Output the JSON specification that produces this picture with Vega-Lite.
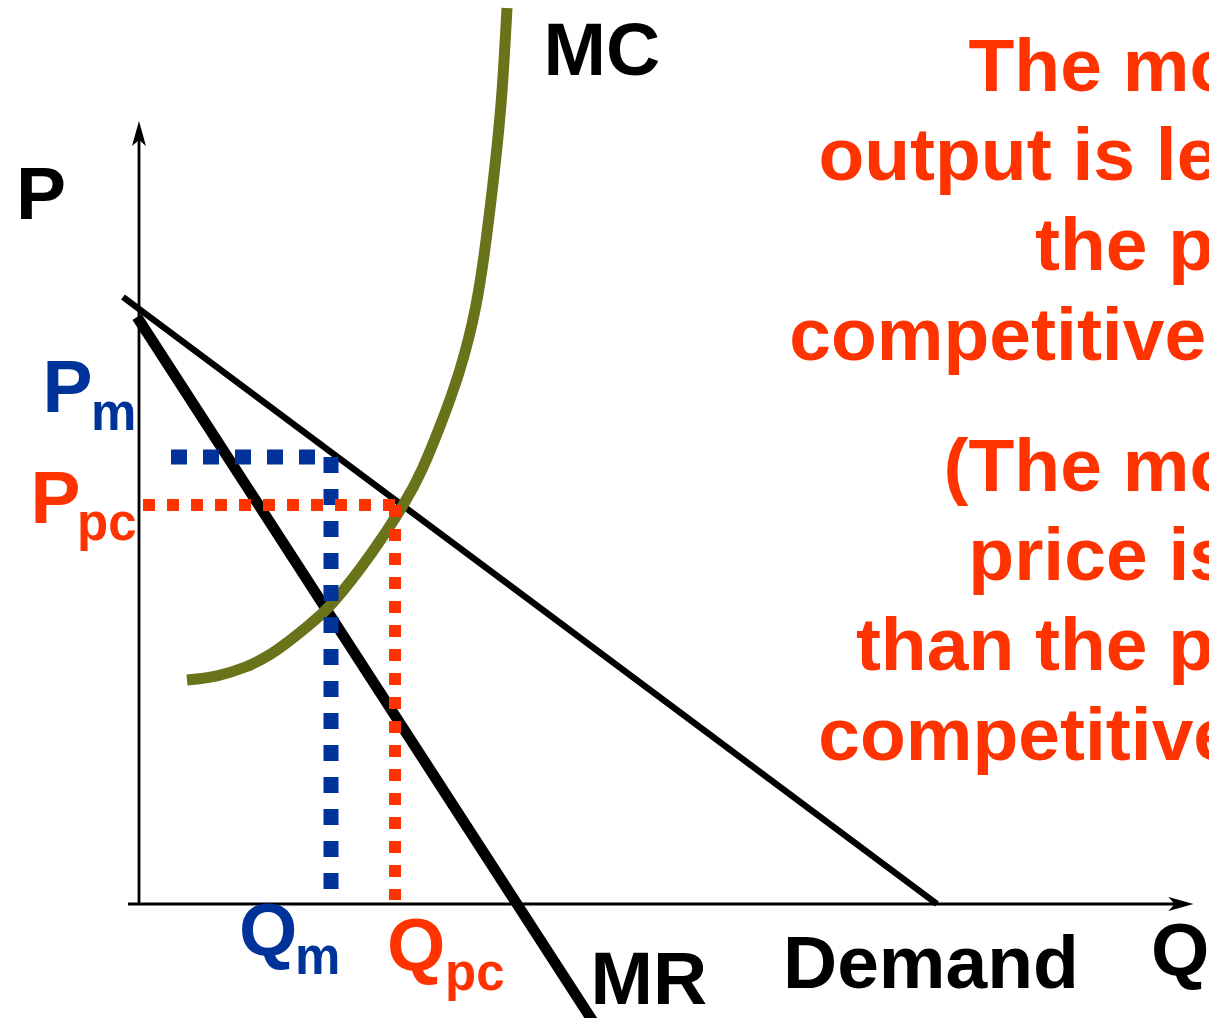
{
  "$schema": "https://vega.github.io/schema/vega-lite/v6.json",
  "width": 1209,
  "height": 1018,
  "autosize": {"type": "none"},
  "padding": 0,
  "background": "white",
  "config": {"view": {"stroke": null}},
  "datasets": {
    "axes": [
      {"axis": "P", "q": 0, "p": 0, "ord": 0},
      {"axis": "P", "q": 0, "p": 7.69, "ord": 1},
      {"axis": "Q", "q": -0.11, "p": 0, "ord": 0},
      {"axis": "Q", "q": 10.40, "p": 0, "ord": 1}
    ],
    "arrows": [
      {"axis": "P", "q": 0, "p": 7.705},
      {"axis": "Q", "q": 10.42, "p": 0}
    ],
    "curves": [
      {"curve": "Demand", "q": -0.16, "p": 6.07, "ord": 0},
      {"curve": "Demand", "q": 7.98, "p": 0.0, "ord": 1},
      {"curve": "MR", "q": -0.02, "p": 5.87, "ord": 0},
      {"curve": "MR", "q": 4.66, "p": -1.36, "ord": 1}
    ],
    "mc": [
      {"q": 0.48, "p": 2.24, "ord": 0},
      {"q": 0.78, "p": 2.27, "ord": 1},
      {"q": 1.08, "p": 2.37, "ord": 2},
      {"q": 1.28, "p": 2.47, "ord": 3},
      {"q": 1.48, "p": 2.61, "ord": 4},
      {"q": 1.70, "p": 2.79, "ord": 5},
      {"q": 1.91, "p": 2.96, "ord": 6},
      {"q": 2.33, "p": 3.50, "ord": 7},
      {"q": 2.68, "p": 4.04, "ord": 8},
      {"q": 2.83, "p": 4.33, "ord": 9},
      {"q": 3.01, "p": 4.77, "ord": 10},
      {"q": 3.21, "p": 5.31, "ord": 11},
      {"q": 3.38, "p": 5.97, "ord": 12},
      {"q": 3.48, "p": 6.69, "ord": 13},
      {"q": 3.56, "p": 7.37, "ord": 14},
      {"q": 3.63, "p": 8.04, "ord": 15},
      {"q": 3.68, "p": 8.96, "ord": 16}
    ],
    "guides": [
      {"market": "monopoly", "seg": "h", "q": 0.32, "p": 4.47, "ord": 0},
      {"market": "monopoly", "seg": "h", "q": 1.92, "p": 4.47, "ord": 1},
      {"market": "monopoly", "seg": "v", "q": 1.92, "p": 4.47, "ord": 0},
      {"market": "monopoly", "seg": "v", "q": 1.92, "p": 0.15, "ord": 1},
      {"market": "competitive", "seg": "h", "q": 0.04, "p": 3.99, "ord": 0},
      {"market": "competitive", "seg": "h", "q": 2.58, "p": 3.99, "ord": 1},
      {"market": "competitive", "seg": "v", "q": 2.56, "p": 3.99, "ord": 0},
      {"market": "competitive", "seg": "v", "q": 2.56, "p": 0.04, "ord": 1}
    ],
    "labels": [
      {"label": "MC", "q": 4.045, "p": 8.29, "role": "plain"},
      {"label": "P", "q": -1.23, "p": 6.85, "role": "plain"},
      {"label": "P", "q": -0.965, "p": 4.92, "role": "monopoly"},
      {"label": "P", "q": -1.085, "p": 3.81, "role": "competitive"},
      {"label": "Q", "q": 1.0, "p": -0.51, "role": "monopoly"},
      {"label": "Q", "q": 2.48, "p": -0.66, "role": "competitive"},
      {"label": "MR", "q": 4.515, "p": -1.0, "role": "plain"},
      {"label": "Demand", "q": 6.44, "p": -0.84, "role": "plain"},
      {"label": "Q", "q": 10.12, "p": -0.71, "role": "plain"}
    ],
    "subs": [
      {"label": "m", "q": -0.48, "p": 4.74, "role": "monopoly"},
      {"label": "pc", "q": -0.62, "p": 3.64, "role": "competitive"},
      {"label": "m", "q": 1.56, "p": -0.70, "role": "monopoly"},
      {"label": "pc", "q": 3.06, "p": -0.86, "role": "competitive"}
    ],
    "notes": [
      {"label": "The monopoly", "q": 13.42, "p": 8.13},
      {"label": "output is less than", "q": 13.42, "p": 7.24},
      {"label": "the perfectly", "q": 13.42, "p": 6.34},
      {"label": "competitive output.", "q": 13.42, "p": 5.44},
      {"label": "(The monopoly", "q": 13.42, "p": 4.13},
      {"label": "price is higher", "q": 13.42, "p": 3.24},
      {"label": "than the perfectly", "q": 13.42, "p": 2.34},
      {"label": "competitive price.)", "q": 13.42, "p": 1.44}
    ]
  },
  "encoding": {
    "x": {"field": "q", "type": "quantitative", "scale": {"domain": [-1.39, 10.70], "nice": false, "zero": false}, "axis": null},
    "y": {"field": "p", "type": "quantitative", "scale": {"domain": [-1.14, 9.04], "nice": false, "zero": false}, "axis": null}
  },
  "layer": [
    {
      "data": {"name": "axes"},
      "mark": {"type": "line", "color": "#000000", "strokeWidth": 2.8, "strokeCap": "butt"},
      "encoding": {"detail": {"field": "axis"}, "order": {"field": "ord", "type": "quantitative"}}
    },
    {
      "data": {"name": "arrows"},
      "transform": [{"filter": "datum.axis === 'P'"}],
      "mark": {"type": "point", "shape": "M0,-1L0.56,1L0,0.52L-0.56,1Z", "size": 625, "filled": true, "color": "#000000", "opacity": 1, "angle": 0},
      "encoding": {}
    },
    {
      "data": {"name": "arrows"},
      "transform": [{"filter": "datum.axis === 'Q'"}],
      "mark": {"type": "point", "shape": "M0,-1L0.56,1L0,0.52L-0.56,1Z", "size": 625, "filled": true, "color": "#000000", "opacity": 1, "angle": 90},
      "encoding": {}
    },
    {
      "data": {"name": "curves"},
      "transform": [{"filter": "datum.curve === 'Demand'"}],
      "mark": {"type": "line", "color": "#000000", "strokeWidth": 6.4, "strokeCap": "butt"},
      "encoding": {"order": {"field": "ord", "type": "quantitative"}}
    },
    {
      "data": {"name": "curves"},
      "transform": [{"filter": "datum.curve === 'MR'"}],
      "mark": {"type": "line", "color": "#000000", "strokeWidth": 10.8, "strokeCap": "butt"},
      "encoding": {"order": {"field": "ord", "type": "quantitative"}}
    },
    {
      "data": {"name": "mc"},
      "mark": {"type": "line", "color": "#69731A", "strokeWidth": 11, "strokeCap": "butt", "interpolate": "basis"},
      "encoding": {"order": {"field": "ord", "type": "quantitative"}}
    },
    {
      "data": {"name": "guides"},
      "transform": [{"filter": "datum.market === 'monopoly'"}],
      "mark": {"type": "line", "color": "#003399", "strokeWidth": 15, "strokeDash": [16, 16], "strokeCap": "butt"},
      "encoding": {"detail": {"field": "seg"}, "order": {"field": "ord", "type": "quantitative"}}
    },
    {
      "data": {"name": "guides"},
      "transform": [{"filter": "datum.market === 'competitive'"}],
      "mark": {"type": "line", "color": "#FF3300", "strokeWidth": 12, "strokeDash": [12, 12], "strokeCap": "butt"},
      "encoding": {"detail": {"field": "seg"}, "order": {"field": "ord", "type": "quantitative"}}
    },
    {
      "data": {"name": "labels"},
      "mark": {"type": "text", "align": "left", "baseline": "alphabetic", "font": "Liberation Sans", "fontWeight": "bold", "fontSize": 75},
      "encoding": {
        "text": {"field": "label"},
        "color": {"field": "role", "type": "nominal", "scale": {"domain": ["plain", "monopoly", "competitive"], "range": ["#000000", "#003399", "#FF3300"]}, "legend": null}
      }
    },
    {
      "data": {"name": "subs"},
      "mark": {"type": "text", "align": "left", "baseline": "alphabetic", "font": "Liberation Sans", "fontWeight": "bold", "fontSize": 51},
      "encoding": {
        "text": {"field": "label"},
        "color": {"field": "role", "type": "nominal", "scale": {"domain": ["plain", "monopoly", "competitive"], "range": ["#000000", "#003399", "#FF3300"]}, "legend": null}
      }
    },
    {
      "data": {"name": "notes"},
      "mark": {"type": "text", "align": "right", "baseline": "alphabetic", "font": "Liberation Sans", "fontWeight": "bold", "fontSize": 75, "color": "#FF3300"},
      "encoding": {"text": {"field": "label"}}
    }
  ]
}
